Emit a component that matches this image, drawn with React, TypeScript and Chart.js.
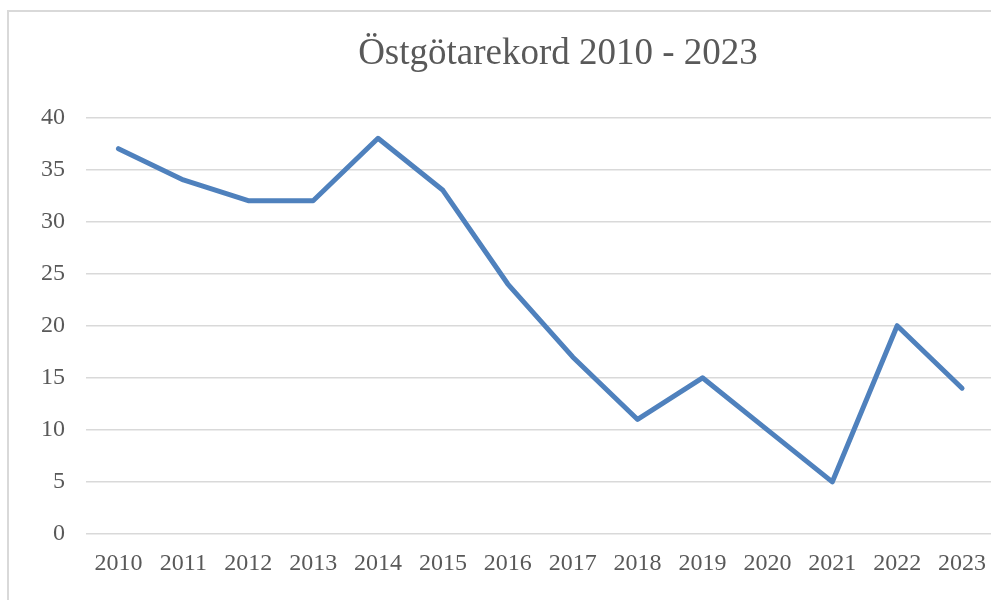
import React, { useEffect, useRef } from "react";
import { Chart, registerables } from "chart.js";

Chart.register(...registerables);

const TITLE = "Östgötarekord 2010 - 2023";
const years = ["2010", "2011", "2012", "2013", "2014", "2015", "2016", "2017", "2018", "2019", "2020", "2021", "2022", "2023"];
const records = [37, 34, 32, 32, 38, 33, 24, 17, 11, 15, 10, 5, 20, 14];
const yMin = 0;
const yMax = 40;
const yStep = 5;

const FONT = '"Liberation Serif", "Times New Roman", serif';
const TEXT = "#595959";

export default function App() {
  const ref = useRef<HTMLCanvasElement | null>(null);

  useEffect(() => {
    if (!ref.current) return;
    const chart = new Chart(ref.current, {
      type: "line",
      data: {
        labels: years,
        datasets: [
          {
            label: "Östgötarekord",
            data: records,
            borderColor: "#4f81bd",
            backgroundColor: "#4f81bd",
            borderWidth: 5,
            pointRadius: 0,
            pointHoverRadius: 0,
            borderJoinStyle: "round",
            borderCapStyle: "round",
            tension: 0,
            yAxisID: "y",
          },
        ],
      },
      options: {
        responsive: false,
        animation: false,
        devicePixelRatio: 1,
        layout: { padding: { left: 0, right: 0, top: 0, bottom: 36 } },
        plugins: {
          legend: { display: false },
          tooltip: { enabled: false },
          title: {
            display: true,
            text: TITLE,
            color: TEXT,
            font: { family: FONT, size: 37, weight: "normal" },
            padding: { top: 20, bottom: 41 },
          },
        },
        scales: {
          x: {
            type: "category",
            offset: true,
            grid: { display: false },
            border: { display: false },
            ticks: {
              color: TEXT,
              font: { family: FONT, size: 24 },
              padding: 7,
              maxRotation: 0,
              autoSkip: false,
            },
            afterFit: (s: any) => {
              s.height = 40;
            },
          },
          y: {
            position: "left",
            min: yMin,
            max: yMax,
            grid: { color: "#d9d9d9", lineWidth: 1.5, drawTicks: false },
            border: { display: false },
            ticks: {
              stepSize: yStep,
              color: TEXT,
              font: { family: FONT, size: 24 },
              padding: 21,
            },
            afterFit: (s: any) => {
              s.width = 77;
            },
          },
          yRight: {
            position: "right",
            display: true,
            grid: { display: false },
            border: { display: false },
            ticks: { display: false },
            afterFit: (s: any) => {
              s.width = 112.5;
            },
          },
        },
      },
    } as any);
    return () => chart.destroy();
  }, []);

  return (
    <div style={{ position: "fixed", left: 0, top: 0, width: 991, height: 600, overflow: "hidden", background: "#fff" }}>
      <div
        style={{
          position: "absolute",
          left: 7,
          top: 10,
          width: 1098,
          height: 598,
          border: "2px solid #d9d9d9",
          background: "#fff",
        }}
      >
        <canvas ref={ref} width={1098} height={598} style={{ display: "block", width: 1098, height: 598 }} />
      </div>
    </div>
  );
}
